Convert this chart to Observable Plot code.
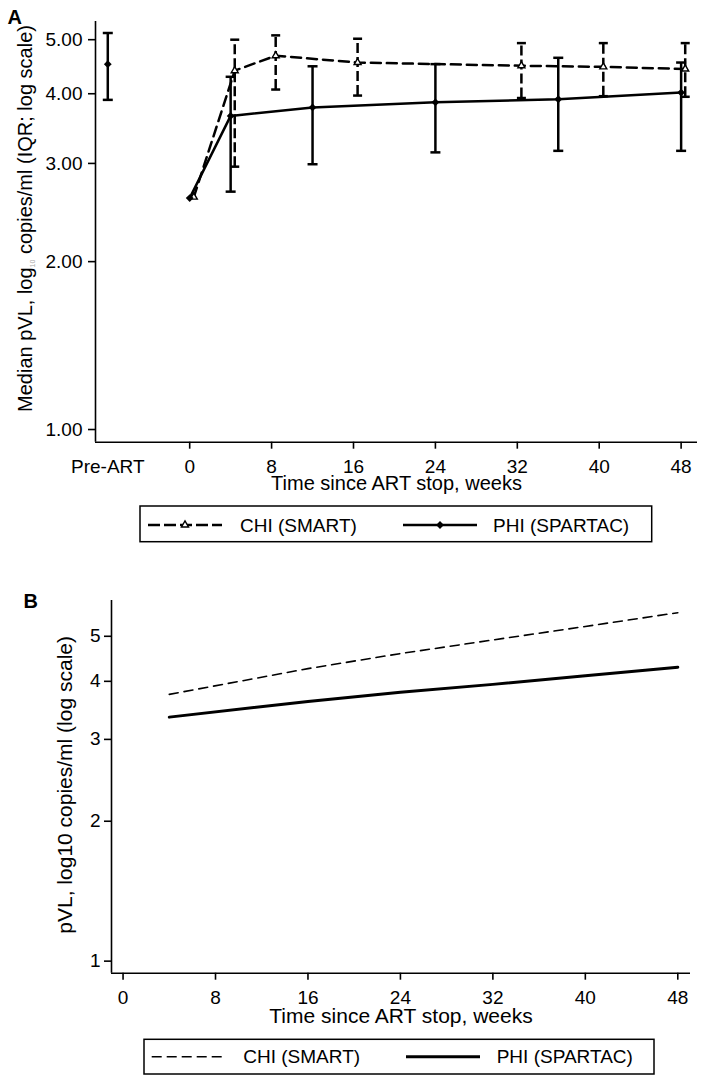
<!DOCTYPE html>
<html><head><meta charset="utf-8">
<script src="https://cdn.jsdelivr.net/npm/d3@7"></script>
<script src="https://cdn.jsdelivr.net/npm/@observablehq/plot@0.6"></script>
<style>
body{margin:0;background:#fff;}
#root{position:relative;width:706px;height:1083px;overflow:hidden;background:#fff;font-family:"Liberation Sans",Arial,sans-serif;}
#root > svg{position:absolute;left:0;}
</style></head><body><div id="root"></div>
<script>
// ---------- Panel A data ----------
const seriesNames = ["CHI (SMART)", "PHI (SPARTAC)"];
const preLabel = "Pre-ART";
const preWeek = -8;
const preMedian = 4.52, preQ1 = 3.90, preQ3 = 5.14;

const weeksCHI  = [0.4, 4.4, 8.4, 16.4, 32.4, 40.4, 48.4];
const medianCHI = [2.61, 4.40, 4.68, 4.55, 4.49, 4.47, 4.43];
const q1CHI     = [null, 2.96, 4.07, 3.97, 3.93, 3.96, 3.95];
const q3CHI     = [null, 5.00, 5.09, 5.02, 4.93, 4.93, 4.93];

const weeksPHI  = [0, 4, 12, 24, 36, 48];
const medianPHI = [2.60, 3.65, 3.78, 3.86, 3.91, 4.02];
const q1PHI     = [null, 2.67, 2.99, 3.14, 3.16, 3.16];
const q3PHI     = [null, 4.29, 4.48, 4.52, 4.64, 4.55];

const xTicks = [0, 8, 16, 24, 32, 40, 48];
const yTicksA = [1, 2, 3, 4, 5];
const xDomainA = [-9.2, 49.6];
const yDomainA = [0.949, 5.39];
const yLabelA = ["Median pVL, log", "10", " copies/ml (IQR; log scale)"];
const xLabel = "Time since ART stop, weeks";

// ---------- Panel B data ----------
const weeksB = [4, 16, 24, 32, 40, 48];
const chiB   = [3.75, 4.26, 4.59, 4.91, 5.25, 5.62];
const phiB   = [3.35, 3.62, 3.79, 3.94, 4.11, 4.29];
const yTicksB = [1, 2, 3, 4, 5];
const xDomainB = [-1.0, 49.1];
const yDomainB = [0.942, 5.97];
const yLabelB = "pVL, log10 copies/ml (log scale)";

// ---------- build ----------
const FONT = '"Liberation Sans", Arial, sans-serif';
const root = document.getElementById("root");
const capSymbol = {draw(ctx, size){const r = Math.sqrt(size/Math.PI); ctx.moveTo(-r,0); ctx.lineTo(r,0);}};

const chiA = weeksCHI.map((w,i)=>({week:w, median:medianCHI[i], q1:q1CHI[i], q3:q3CHI[i]}));
const phiA = weeksPHI.map((w,i)=>({week:w, median:medianPHI[i], q1:q1PHI[i], q3:q3PHI[i]}));
const preA = [{week:preWeek, median:preMedian, q1:preQ1, q3:preQ3}];
const chiBars = chiA.filter(d=>d.q1!=null);
const phiBars = phiA.filter(d=>d.q1!=null).concat(preA);

const plotA = Plot.plot({
  width:706, height:505, marginLeft:95, marginRight:9, marginTop:21, marginBottom:63.3,
  style:{fontFamily:FONT, fontSize:"19px", color:"black", background:"transparent", overflow:"visible"},
  x:{type:"linear", domain:xDomainA},
  y:{type:"log", domain:yDomainA},
  marks:[
    Plot.ruleX([xDomainA[0]], {strokeWidth:1.6}),
    Plot.ruleY([yDomainA[0]], {strokeWidth:1.6}),
    Plot.axisY({ticks:yTicksA, tickFormat:d3.format(".2f"), tickSize:7, tickPadding:6, strokeWidth:1.6, label:null, fontSize:19}),
    Plot.axisX({ticks:xTicks, tickSize:7, tickPadding:10, strokeWidth:1.6, label:null, fontSize:19}),
    Plot.axisX({ticks:[preWeek], tickFormat:()=>preLabel, tickSize:0, tickPadding:17, label:null, fontSize:19}),
    Plot.line(chiA, {x:"week", y:"median", stroke:"black", strokeWidth:2.5, strokeDasharray:"10,6"}),
    Plot.line(phiA, {x:"week", y:"median", stroke:"black", strokeWidth:2.5}),
    Plot.ruleX(chiBars, {x:"week", y1:"q1", y2:"q3", stroke:"black", strokeWidth:2.5, strokeDasharray:"10,4"}),
    Plot.dot(chiBars, {x:"week", y:"q1", symbol:capSymbol, r:4.5, fill:"none", stroke:"black", strokeWidth:2.5}),
    Plot.dot(chiBars, {x:"week", y:"q3", symbol:capSymbol, r:4.5, fill:"none", stroke:"black", strokeWidth:2.5}),
    Plot.ruleX(phiBars, {x:"week", y1:"q1", y2:"q3", stroke:"black", strokeWidth:2.5}),
    Plot.dot(phiBars, {x:"week", y:"q1", symbol:capSymbol, r:5, fill:"none", stroke:"black", strokeWidth:2.5}),
    Plot.dot(phiBars, {x:"week", y:"q3", symbol:capSymbol, r:5, fill:"none", stroke:"black", strokeWidth:2.5}),
    Plot.dot(chiA, {x:"week", y:"median", symbol:"triangle", r:2.6, fill:"white", stroke:"black", strokeWidth:1.4}),
    Plot.dot(phiA.concat(preA), {x:"week", y:"median", symbol:"diamond2", r:3.5, fill:"black"}),
    Plot.text([xLabel], {frameAnchor:"bottom", dy:47.5, lineAnchor:"bottom", textAnchor:"middle", fontSize:20}),
    Plot.text(["A"], {frameAnchor:"top-left", dx:-88, dy:2, textAnchor:"start", lineAnchor:"bottom", fontSize:20, fontWeight:"bold"})
  ]
});
plotA.style.top = "0px";
root.appendChild(plotA);
// rotated y label with small grey subscript
{
  const t = d3.select(plotA).append("text")
    .attr("transform","translate(26,218.5) rotate(-90)")
    .attr("text-anchor","middle").attr("dy","0.32em")
    .attr("font-family",FONT).attr("font-size",20).attr("fill","black");
  t.append("tspan").text(yLabelA[0]);
  t.append("tspan").attr("font-size",7).attr("fill","#aaa").attr("dy",3).text(yLabelA[1]);
  t.append("tspan").attr("dy",-3).text(yLabelA[2]);
}

const rowsB = weeksB.flatMap((w,i)=>[{week:w, v:chiB[i], s:seriesNames[0]},{week:w, v:phiB[i], s:seriesNames[1]}]);
const plotB = Plot.plot({
  width:706, height:475, marginLeft:111, marginRight:16, marginTop:40, marginBottom:62.3,
  style:{fontFamily:FONT, fontSize:"19px", color:"black", background:"transparent", overflow:"visible"},
  x:{type:"linear", domain:xDomainB},
  y:{type:"log", domain:yDomainB},
  marks:[
    Plot.ruleX([xDomainB[0]], {strokeWidth:1.6}),
    Plot.ruleY([yDomainB[0]], {strokeWidth:1.6}),
    Plot.axisY({ticks:yTicksB, tickFormat:d3.format("d"), tickSize:7, tickPadding:4, strokeWidth:1.6, label:null, fontSize:19}),
    Plot.axisX({ticks:xTicks, tickSize:7, tickPadding:10, strokeWidth:1.6, label:null, fontSize:19}),
    Plot.line(rowsB.filter(d=>d.s===seriesNames[0]), {x:"week", y:"v", stroke:"black", strokeWidth:1.6, strokeDasharray:"9,6"}),
    Plot.line(rowsB.filter(d=>d.s===seriesNames[1]), {x:"week", y:"v", stroke:"black", strokeWidth:3}),
    Plot.text([yLabelB], {frameAnchor:"left", rotate:-90, dx:-46, dy:-2, textAnchor:"middle", fontSize:21}),
    Plot.text([xLabel], {frameAnchor:"bottom", dy:50, lineAnchor:"bottom", textAnchor:"middle", fontSize:21}),
    Plot.text(["B"], {frameAnchor:"top-left", dx:-88, dy:7, textAnchor:"start", lineAnchor:"bottom", fontSize:20, fontWeight:"bold"})
  ]
});
plotB.style.top = "560px";
root.appendChild(plotB);

// ---------- legends ----------
function legend(top, box, cy, items){
  const svg = d3.create("svg").attr("width",706).attr("height",50)
    .style("position","absolute").style("left","0px").style("top",top+"px");
  svg.append("rect").attr("x",box[0]).attr("y",box[1]).attr("width",box[2]).attr("height",box[3])
    .attr("fill","white").attr("stroke","black").attr("stroke-width",1.5);
  for (const it of items){
    svg.append("line").attr("x1",it.x1).attr("x2",it.x2).attr("y1",cy).attr("y2",cy)
      .attr("stroke","black").attr("stroke-width",it.sw).attr("stroke-dasharray",it.dash||null);
    if (it.symbol){
      svg.append("path").attr("transform",`translate(${(it.x1+it.x2)/2},${cy})`)
        .attr("d", d3.symbol(it.symbol, Math.PI*it.r*it.r)())
        .attr("fill", it.fill).attr("stroke","black").attr("stroke-width",it.ssw||0);
    }
    svg.append("text").attr("x",it.tx).attr("y",cy).attr("dy","0.35em")
      .attr("font-family",FONT).attr("font-size",19).attr("fill","black").text(it.label);
  }
  root.appendChild(svg.node());
}
legend(500, [140,6,511.7,35.7], 25, [
  {x1:148,x2:222,sw:2.5,dash:"12,4",symbol:d3.symbolTriangle,r:2.6,fill:"white",ssw:1.4,tx:240,label:seriesNames[0]},
  {x1:403,x2:477,sw:2.5,symbol:d3.symbolDiamond2,r:3.5,fill:"black",tx:493,label:seriesNames[1]}
]);
legend(1033, [144,6.3,510,34.7], 23.7, [
  {x1:151.7,x2:221.7,sw:1.6,dash:"10,5",tx:243.3,label:seriesNames[0]},
  {x1:406,x2:480,sw:3,tx:496.7,label:seriesNames[1]}
]);
</script></body></html>
